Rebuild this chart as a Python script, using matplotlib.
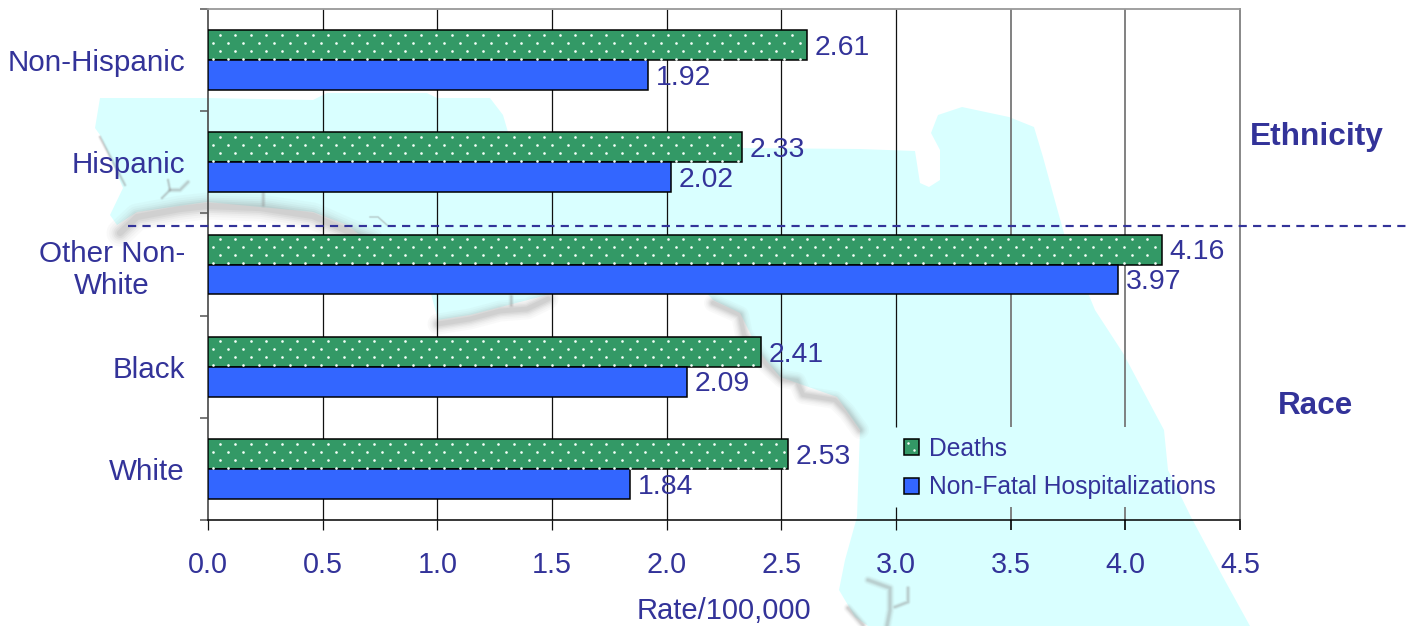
import matplotlib
matplotlib.use("Agg")
import matplotlib.pyplot as plt
import numpy as np
from matplotlib.lines import Line2D
from matplotlib.patches import Polygon, Patch
from matplotlib.transforms import IdentityTransform

plt.rcParams['font.family'] = ['Liberation Sans', 'DejaVu Sans']

categories = ["White", "Black", "Other Non-\nWhite", "Hispanic", "Non-Hispanic"]
deaths = [2.53, 2.41, 4.16, 2.33, 2.61]
hospitalizations = [1.84, 2.09, 3.97, 2.02, 1.92]
x_ticks = [0.0, 0.5, 1.0, 1.5, 2.0, 2.5, 3.0, 3.5, 4.0, 4.5]

# decorative background map (picture pixel coordinates)
map_outline = [(117,225),(137,212),(207,202),(313,212),(347,225),(430,290),(438,320),
    (470,315),(547,295),(600,265),(690,275),(713,300),(740,313),(760,353),(780,377),
    (837,397),(860,430),(857,517),(845,560),(839,590),(855,617),(868,626),(1250,626),
    (1223,577),(1191,517),(1168,470),(1164,430),(1123,353),(1095,310),(1065,237),
    (1052,190),(1043,157),(1034,127),(1009,117),(962,107),(938,115),(931,133),(940,150),
    (940,180),(929,187),(920,183),(915,151),(860,149),(741,148),(508,132),(503,115),
    (490,98),(437,98),(427,93),(327,93),(313,100),(207,98),(100,98),(95,128),(100,135),
    (123,188),(110,215)]
coast_shadows = [
    ([(120,233),(137,217),(180,209),(207,206),(260,208),(313,216),(347,231),(370,240)], 9),
    ([(100,137),(125,185)], 1.5),
    ([(168,180),(170,190),(162,198)], 1.5),
    ([(170,190),(180,190),(188,182)], 2),
    ([(263,193),(263,205)], 2),
    ([(370,217),(378,217),(387,225)], 1),
    ([(438,324),(470,319),(500,311),(527,309),(548,299)], 7),
    ([(511,296),(511,305)], 2),
    ([(713,303),(740,315),(744,335),(767,365),(782,379),(797,381),(803,395),(835,400),(847,412),(860,430)], 6),
    ([(868,580),(890,588),(890,610),(887,626)], 3),
    ([(895,607),(908,602),(908,588)], 2),
    ([(848,608),(863,625)], 3),
]

TEXT = "#333399"
GREEN = "#339966"
BLUE = "#3366FF"

fig = plt.figure(figsize=(14.13, 6.26), dpi=100, facecolor="white")
W, H = 1413, 626

bg = fig.add_axes([0, 0, 1, 1], zorder=0)
bg.set_xlim(0, W); bg.set_ylim(H, 0); bg.axis("off")
bg.add_patch(Polygon(map_outline, closed=True, facecolor="#D9FFFF", edgecolor="none"))
for pts, w in coast_shadows:
    xs, ys = zip(*pts)
    for f, a in [(3.0, .05), (2.4, .06), (1.9, .08), (1.5, .10), (1.1, .12), (0.7, .14)]:
        bg.plot(xs, ys, color="#9A9A9A", lw=w * f * 0.72, alpha=a,
                solid_capstyle="round", solid_joinstyle="round")

left, right, top, bottom = 208, 1240, 9, 520
ax = fig.add_axes([left / W, 1 - bottom / H, (right - left) / W, (bottom - top) / H], zorder=1)
ax.patch.set_visible(False)

y = np.arange(len(categories))
h = 0.293
ax.set_xlim(0, 4.5)
ax.set_ylim(-0.5, len(categories) - 0.5)

# gridlines, broken behind the legend
legend_gap = (ax.transData.inverted().transform((0, H - 507))[1],
              ax.transData.inverted().transform((0, H - 427))[1])
for t in x_ticks[1:-1]:
    c, lw = ("#777777", 1.3) if t >= 3.5 else ("#111111", 0.9)
    if t >= 3.0:
        ax.vlines(t, -0.5, legend_gap[0], color=c, lw=lw, zorder=1)
        ax.vlines(t, legend_gap[1], 4.5, color=c, lw=lw, zorder=1)
    else:
        ax.vlines(t, -0.5, 4.5, color=c, lw=lw, zorder=1)

b1 = ax.barh(y + h / 2, deaths, height=h, color=GREEN, edgecolor="black", lw=1.1, zorder=3)
b2 = ax.barh(y - h / 2, hospitalizations, height=h, color=BLUE, edgecolor="black", lw=1.1, zorder=3)
for bars in (b1, b2):
    for lab in ax.bar_label(bars, fmt="%.2f", padding=5.5, fontsize=20.4, color=TEXT, zorder=5):
        ox, oy = lab.xyann
        lab.xyann = (ox, oy - 2.0)

# dotted texture of the Deaths bars, in display pixels
fig.canvas.draw()
for bar in b1:
    x0, y0 = ax.transData.transform((0, bar.get_y() + bar.get_height()))
    x1, y1 = ax.transData.transform((bar.get_width(), bar.get_y()))
    dx, dy = [], []
    for r, py in enumerate(np.arange(y0 - 4.7, y1, -8.0)):
        start = x0 + (12.0 if r % 2 == 0 else 4.5)
        px = np.arange(start, x1 - 1, 15.45)
        dx.extend(px); dy.extend([py] * len(px))
    ax.plot(dx, dy, ls="none", marker="o", ms=1.9, mfc="#F4FFF8", mec="none",
            transform=IdentityTransform(), zorder=4, clip_on=False)

ax.set_yticks(y, categories)
ax.set_yticks(np.arange(-0.5, len(categories)), minor=True)
ax.tick_params(axis="y", which="major", length=0, pad=16.5, labelsize=21.3, labelcolor=TEXT)
ax.tick_params(axis="y", which="minor", length=5.8, width=1.1, color="#555555")
for lab in ax.get_yticklabels():
    lab.set_multialignment("center")
    lab.set_linespacing(1.22)

ax.set_xticks(x_ticks, [f"{t:.1f}" for t in x_ticks])
ax.tick_params(axis="x", length=7.2, width=0.9, color="#111111", pad=15,
               labelsize=20.7, labelcolor=TEXT)
for t, tk in zip(x_ticks, ax.xaxis.get_major_ticks()):
    if t >= 3.5:
        tk.tick1line.set_color("#777777"); tk.tick1line.set_markeredgewidth(1.3)
ax.set_xlabel("Rate/100,000", fontsize=21, color=TEXT, labelpad=13)

ax.spines["top"].set_color("#999999"); ax.spines["top"].set_linewidth(1.3)
ax.spines["right"].set_color("#888888"); ax.spines["right"].set_linewidth(1.4)
ax.spines["left"].set_color("#555555"); ax.spines["left"].set_linewidth(1.3)
ax.spines["bottom"].set_color("black"); ax.spines["bottom"].set_linewidth(1.1)

handles = [Patch(facecolor=GREEN, edgecolor="black", lw=1.1, label="Deaths"),
           Patch(facecolor=BLUE, edgecolor="black", lw=1.1, label="Non-Fatal Hospitalizations")]
leg = ax.legend(handles=handles, loc="center left", frameon=False, fontsize=17.75,
                bbox_to_anchor=((904 - left) / (right - left), (bottom - 468) / (bottom - top)),
                borderpad=0, borderaxespad=0, handlelength=0.6, handleheight=0.6,
                handletextpad=0.40, labelspacing=0.6, labelcolor=TEXT)
leg.set_zorder(6)

# dots of the Deaths legend swatch
fig.canvas.draw()
box = leg.get_patches()[0].get_window_extent()
ax.plot([box.x0 + box.width * 0.3, box.x0 + box.width * 0.65],
        [box.y0 + box.height * 0.72, box.y0 + box.height * 0.28],
        ls="none", marker="o", ms=1.8, mfc="#F4FFF8", mec="none",
        transform=IdentityTransform(), zorder=7, clip_on=False)

fig.add_artist(Line2D([128 / W, 1408 / W], [1 - 226 / H] * 2, color=TEXT, lw=1.55,
                      dashes=(3.8, 2.9), zorder=5))
fig.text(1317 / W, 1 - 137 / H, "Ethnicity", fontsize=22.8, fontweight="bold",
         color=TEXT, ha="center", va="center", zorder=5)
fig.text(1316 / W, 1 - 406 / H, "Race", fontsize=22.6, fontweight="bold",
         color=TEXT, ha="center", va="center", zorder=5)

fig.savefig("out.png", dpi=100, facecolor="white")
